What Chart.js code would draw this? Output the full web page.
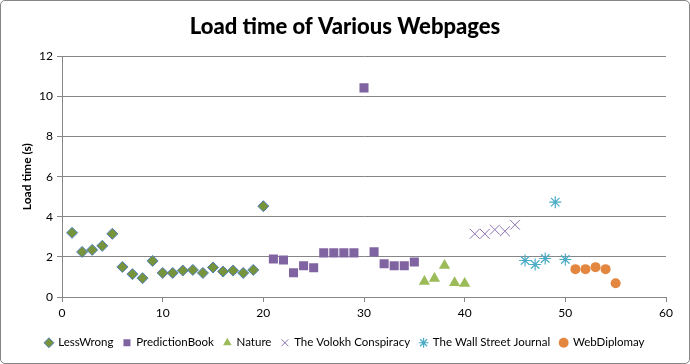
<!DOCTYPE html>
<html><head><meta charset="utf-8">
<script src="https://cdn.jsdelivr.net/npm/chart.js@4.4.1/dist/chart.umd.min.js"></script>
<style>
html,body{margin:0;padding:0;background:#fff;}
#wrap{position:relative;width:690px;height:364px;}
#frame{position:absolute;left:0;top:0;width:688px;height:362px;border:1px solid #868686;border-radius:5px;pointer-events:none;}
canvas{position:absolute;left:0;top:0;}
</style></head><body>
<div id="wrap"><canvas id="c" width="690" height="364"></canvas><div id="frame"></div></div>
<script>
const chartTitle = 'Load time of Various Webpages';
const yAxisTitle = 'Load time (s)';
const seriesNames = ['LessWrong', 'PredictionBook', 'Nature', 'The Volokh Conspiracy', 'The Wall Street Journal', 'WebDiplomay'];

const lessWrongX = [1,2,3,4,5,6,7,8,9,10,11,12,13,14,15,16,17,18,19,20];
const lessWrongY = [3.20,2.25,2.35,2.55,3.15,1.50,1.14,0.94,1.80,1.20,1.20,1.32,1.35,1.20,1.47,1.27,1.32,1.20,1.35,4.53];
const predictionBookX = [21,22,23,24,25,26,27,28,29,30,31,32,33,34,35];
const predictionBookY = [1.90,1.85,1.21,1.56,1.46,2.20,2.20,2.20,2.20,10.43,2.25,1.66,1.56,1.56,1.75];
const natureX = [36,37,38,39,40];
const natureY = [0.77,0.92,1.57,0.71,0.67];
const volokhX = [41,42,43,44,45];
const volokhY = [3.15,3.15,3.36,3.28,3.60];
const wsjX = [46,47,48,49,50];
const wsjY = [1.82,1.62,1.92,4.73,1.87];
const webDiplomacyX = [51,52,53,54,55];
const webDiplomacyY = [1.39,1.39,1.49,1.39,0.69];

const xTicks = [0,10,20,30,40,50,60];
const yTicks = [0,2,4,6,8,10,12];

function pts(xs, ys){ return xs.map((x,i)=>({x:x, y:ys[i]})); }

const gridColor = '#868686';
const fontFamily = 'Lato, "Open Sans", sans-serif';

new Chart(document.getElementById('c'), {
  type: 'scatter',
  data: {
    datasets: [
      {label: seriesNames[0], data: pts(lessWrongX, lessWrongY), pointStyle:'rectRot', pointRadius:5.5, backgroundColor:'#77933C', borderColor:'#4F81BD', borderWidth:1},
      {label: seriesNames[1], data: pts(predictionBookX, predictionBookY), pointStyle:'rect', pointRadius:6.4, backgroundColor:'#8064A2', borderColor:'#8064A2', borderWidth:0},
      {label: seriesNames[2], data: pts(natureX, natureY), pointStyle:'triangle', pointRadius:6.5, backgroundColor:'#9BBB59', borderColor:'#9BBB59', borderWidth:0},
      {label: seriesNames[3], data: pts(volokhX, volokhY), pointStyle:'crossRot', pointRadius:7, backgroundColor:'#8064A2', borderColor:'#8C72B0', borderWidth:1},
      {label: seriesNames[4], data: pts(wsjX, wsjY), pointStyle:'star', pointRadius:6, backgroundColor:'#4BACC6', borderColor:'#4BACC6', borderWidth:1.2},
      {label: seriesNames[5], data: pts(webDiplomacyX, webDiplomacyY), pointStyle:'circle', pointRadius:5, backgroundColor:'#E3863F', borderColor:'#E3863F', borderWidth:0}
    ]
  },
  options: {
    responsive: false,
    animation: false,
    layout: {padding: {left:0, right:0, top:0, bottom:5.5}},
    plugins: {
      title: {display:true, text: chartTitle, color:'#000', font:{family:fontFamily, size:22, weight:'900'}, padding:{top:14, bottom:16}},
      legend: {
        position:'bottom',
        labels: {usePointStyle:true, boxWidth:7, boxHeight:7, padding:10, color:'#000', font:{family:fontFamily, size:11.5}}
      },
      tooltip: {enabled:false}
    },
    scales: {
      x: {
        type:'linear', min:0, max:60,
        afterBuildTicks: s => { s.ticks = xTicks.map(v=>({value:v})); },
        afterFit: s => { s.height = 30; },
        ticks: {color:'#000', font:{family:fontFamily, size:12}, padding:4},
        grid: {drawOnChartArea:false, drawTicks:true, tickLength:5, color:gridColor},
        border: {display:true, color:gridColor, width:1}
      },
      y: {
        min:0, max:12,
        afterBuildTicks: s => { s.ticks = yTicks.map(v=>({value:v})); },
        afterFit: s => { s.width = 62; },
        ticks: {color:'#000', font:{family:fontFamily, size:12}, padding:4},
        grid: {color:gridColor, tickLength:5, drawTicks:true},
        border: {display:true, color:gridColor, width:1},
        title: {display:true, text:yAxisTitle, color:'#000', font:{family:fontFamily, size:12, weight:'bold'}, padding:{top:20, bottom:0}}
      },
      yRight: {
        position:'right', min:0, max:12,
        afterFit: s => { s.width = 24; },
        ticks: {display:false},
        grid: {display:false, drawOnChartArea:false, drawTicks:false},
        border: {display:false}
      }
    }
  }
});
</script>
</body></html>
